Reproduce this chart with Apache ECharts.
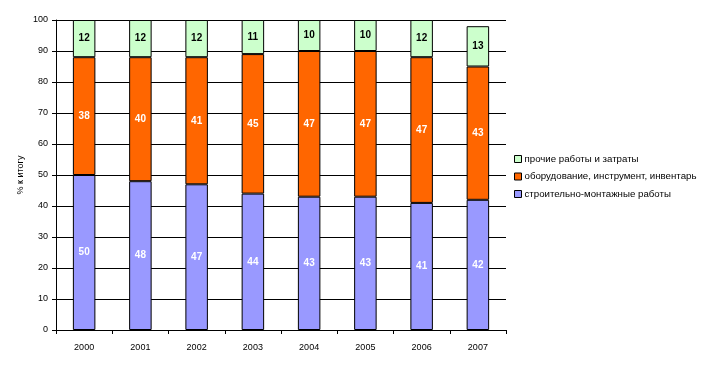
<!DOCTYPE html>
<html><head><meta charset="utf-8">
<script src="https://cdn.jsdelivr.net/npm/echarts@6/dist/echarts.min.js"></script>
<style>html,body{margin:0;padding:0;background:#fff}#c{width:708px;height:367px}</style>
</head><body><div id="c"></div>
<script>
const categories = ['2000','2001','2002','2003','2004','2005','2006','2007'];
const construction = [50,48,47,44,43,43,41,42];
const equipment = [38,40,41,45,47,47,47,43];
const other = [12,12,12,11,10,10,12,13];
const seriesNames = ['строительно-монтажные работы','оборудование, инструмент, инвентарь','прочие работы и затраты'];
const yTicks = [0,10,20,30,40,50,60,70,80,90,100];

const font = 'Liberation Sans, Arial, sans-serif';
const chart = echarts.init(document.getElementById('c'), null, {renderer:'canvas'});
function mk(name, data, color, labelColor, weight){
  return {name, type:'bar', stack:'s', data, barWidth:'40%',
    itemStyle:{color, borderColor:'#000', borderWidth:1},
    label:{show:true, position:'inside', color:labelColor, fontSize:10, fontFamily:font, fontWeight:weight}};
}
chart.setOption({
  animation:false,
  textStyle:{fontFamily:font},
  grid:{left:56, right:202, top:20, bottom:37},
  legend:{orient:'vertical', left:509, top:149, itemWidth:7, itemHeight:7, itemGap:7.5,
    icon:'rect',
    data:[seriesNames[2], seriesNames[1], seriesNames[0]],
    textStyle:{fontSize:9.7, color:'#000', fontFamily:font, padding:[0,0,0,-2]},
    itemStyle:{borderColor:'#000', borderWidth:1}},
  xAxis:{type:'category', data:categories,
    axisLine:{lineStyle:{color:'#000'}},
    axisTick:{show:true, alignWithLabel:false, length:4, lineStyle:{color:'#000'}},
    axisLabel:{color:'#000', fontSize:9, margin:13}},
  yAxis:{type:'value', min:yTicks[0], max:yTicks[yTicks.length-1], interval:10,
    name:'% к итогу', nameLocation:'middle', nameGap:31, nameRotate:90, nameMoveOverlap:false,
    nameTextStyle:{fontSize:9, color:'#000'},
    axisLine:{show:true, lineStyle:{color:'#000'}},
    axisTick:{show:true, length:4, lineStyle:{color:'#000'}},
    axisLabel:{color:'#000', fontSize:9, margin:8},
    splitLine:{lineStyle:{color:'#000', width:1}}},
  series:[
    mk(seriesNames[0], construction, '#9999FF', '#fff', 'bold'),
    mk(seriesNames[1], equipment, '#FF6600', '#fff', 'bold'),
    mk(seriesNames[2], other, '#CCFFCC', '#000', 'bold')
  ]
});
</script></body></html>
